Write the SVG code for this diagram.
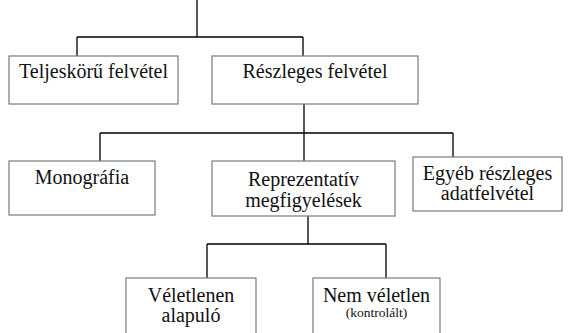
<svg xmlns="http://www.w3.org/2000/svg" width="568" height="333" viewBox="0 0 568 333">
<style>
.box{fill:#fff;stroke:#7a7a7a;stroke-width:1.2}
.ln{fill:none;stroke:#000;stroke-width:1.3}
text{font-family:"Liberation Serif","Times New Roman",serif;font-size:20px;fill:#111;text-anchor:middle}
.sm{font-size:13.5px}
</style>
<rect width="568" height="333" fill="#fff"/>
<g id="connectors">
<path class="ln" d="M197,0 V37 M77,37 H303 M77,37 V56 M303,37 V56"/>
<path class="ln" d="M304,104 V161 M100,133 H453 M100,133 V161 M453,133 V157"/>
<path class="ln" d="M308,216 V244 M207,244 H386 M207,244 V278 M386,244 V278"/>
</g>
<g id="teljeskoru">
<rect class="box" x="9" y="56" width="169" height="48"/>
<text x="93.5" y="78">Teljeskörű felvétel</text>
</g>
<g id="reszleges">
<rect class="box" x="212" y="56" width="206" height="48"/>
<text x="315" y="78">Részleges felvétel</text>
</g>
<g id="monografia">
<rect class="box" x="9" y="161" width="146" height="54"/>
<text x="82" y="184">Monográfia</text>
</g>
<g id="reprezentativ">
<rect class="box" x="212" y="161" width="183" height="55"/>
<text x="303.5" y="186">Reprezentatív</text>
<text x="303.5" y="207">megfigyelések</text>
</g>
<g id="egyeb">
<rect class="box" x="413" y="157" width="149" height="54"/>
<text x="487.5" y="180">Egyéb részleges</text>
<text x="487.5" y="200">adatfelvétel</text>
</g>
<g id="veletlenen">
<rect class="box" x="126" y="278" width="130" height="70"/>
<text x="191" y="302">Véletlenen</text>
<text x="191" y="322">alapuló</text>
</g>
<g id="nemveletlen">
<rect class="box" x="313" y="278" width="127" height="70"/>
<text x="376.5" y="302">Nem véletlen</text>
<text class="sm" x="376.5" y="317">(kontrolált)</text>
</g>
</svg>
